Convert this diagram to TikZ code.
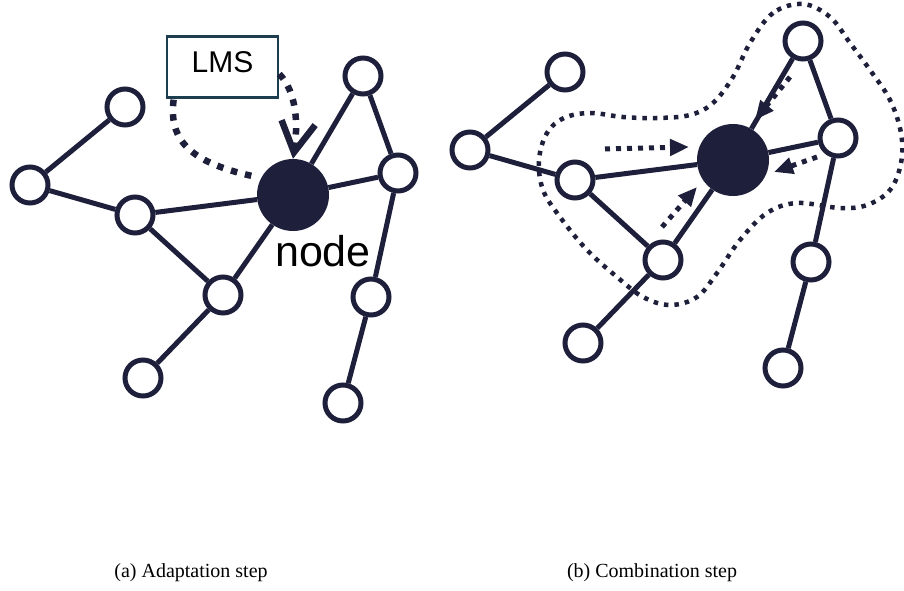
\documentclass[tikz,border=0pt]{standalone}
\usepackage{fontspec}
\setmainfont{Liberation Serif}
\setsansfont{Liberation Sans}
\usetikzlibrary{arrows.meta}
\definecolor{ink}{RGB}{30,31,59}
\definecolor{boxline}{RGB}{28,62,78}

\begin{document}
\begin{tikzpicture}[x=1pt,y=-1pt,
  agent/.style={circle,draw=ink,line width=5pt,fill=white,minimum size=36pt,inner sep=0pt},
  hub/.style={circle,fill=ink,minimum size=72pt,inner sep=0pt},
  link/.style={draw=ink,line width=5pt},
  feed/.style={ink,line width=6.5pt,dash pattern=on 6.5pt off 8pt},
  flow/.style={ink,line width=5pt,dash pattern=on 5pt off 6pt,-{Triangle[length=19pt,width=16pt]}},
  hood/.style={ink,line width=4.5pt,dash pattern=on 4.5pt off 6pt}]
  \useasboundingbox (0,0) rectangle (904,591);

  \foreach \g/\dx/\dy in {a/0/0,b/440/-35} {
    \begin{scope}[shift={(\dx,\dy)}]
      \node[hub] (\g c) at (293,195) {};
      \foreach \i/\x/\y in {1/125/107,2/30/185,3/135/215,4/223/295,5/143/378,
                            6/363/76,7/398/173,8/371/297,9/343/403} {
        \node[agent] (\g\i) at (\x,\y) {};
      }
    \end{scope}
    \foreach \s/\t in {1/2,2/3,3/c,3/4,4/c,4/5,c/7,c/6,6/7,7/8,8/9} {
      \draw[link] (\g\s) -- (\g\t);
    }
  }

  \node[draw=boxline,line width=2.5pt,minimum width=111pt,minimum height=61pt,
        text depth=10pt,font=\sffamily\fontsize{30}{30}\selectfont] (lms) at (222.5,67) {LMS};
  \node[font=\sffamily\fontsize{43}{43}\selectfont,anchor=base] (lbl) at (323,266) {node};

  \draw[feed,shorten <=10pt] (ac.152) .. controls (190,162) and (168,140) .. ([xshift=8pt]lms.south west);
  \draw[feed,-{Straight Barb[length=30pt,width=34pt,line width=6.5pt]}]
    ([yshift=-7pt]lms.east) .. controls (297,92) and (298,125) .. (ac.north);

  \draw[hood] plot[smooth cycle,tension=0.6] coordinates {
    (803,4) (773,13) (750,43) (733,77) (713,103) (690,115) (657,118) (623,117)
    (590,113) (564,118) (547,133) (539,160) (543,190) (560,217) (587,250)
    (617,277) (643,297) (670,305) (697,297) (717,273) (740,240) (767,213)
    (797,203) (840,208) (867,205) (890,190) (901,163) (901,133) (890,100)
    (870,70) (850,43) (830,17)};

  \coordinate (s1) at (605,149);
  \coordinate (e1) at (689,147);
  \coordinate (s2) at (790,77);
  \coordinate (e2) at (755,120);
  \coordinate (s3) at (817,157);
  \coordinate (e3) at (774,172);
  \coordinate (s4) at (662,227);
  \coordinate (e4) at (697,187);
  \foreach \k in {1,...,4} {
    \draw[flow] (s\k) -- (e\k);
  }

  \node[font=\fontsize{20}{20}\selectfont,anchor=base] (capa) at (191,577) {(a) Adaptation step};
  \node[font=\fontsize{20}{20}\selectfont,anchor=base] (capb) at (652,577) {(b) Combination step};
\end{tikzpicture}
\end{document}
